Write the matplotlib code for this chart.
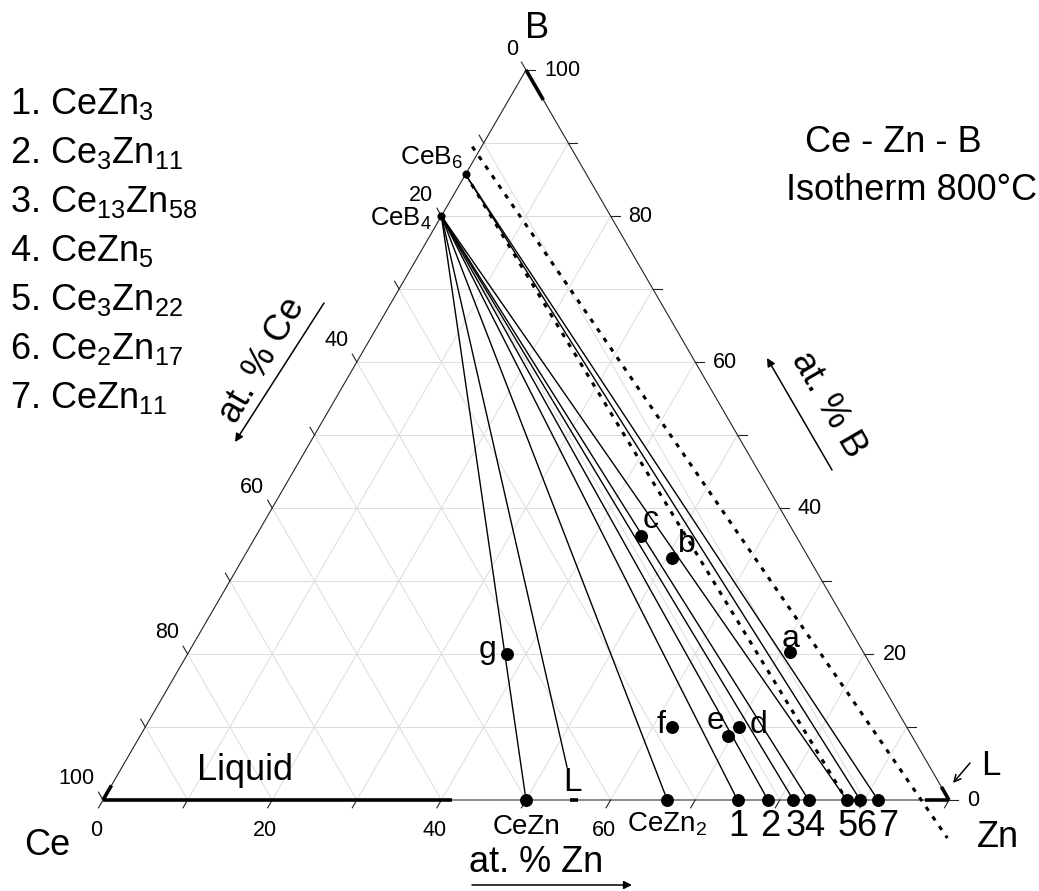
import matplotlib
matplotlib.use('Agg')
import matplotlib.pyplot as plt

plt.rcParams['font.family'] = ['Liberation Sans', 'DejaVu Sans']

W, H = 1039, 891
# pixel frame of the triangle: Ce corner, length of the Ce-Zn side, height to B
CE_X, CE_Y, SIDE, HEIGHT = 103, 800, 846, 730

# ---- data: compositions in at.% (Zn, B) ----
grid_steps = [10, 20, 30, 40, 50, 60, 70, 80, 90]
tick_steps = [0, 10, 20, 30, 40, 50, 60, 70, 80, 90, 100]
zn_tick_labels = [0, 20, 40, 60]
b_tick_labels = [0, 20, 40, 60, 80, 100]
ce_tick_labels = [0, 20, 40, 60, 80, 100]

boride_names = ['CeB4', 'CeB6']
boride_b = [80.0, 85.7]

binary_names = ['CeZn', 'CeZn2', '1', '2', '3', '4', '5', '6', '7']
binary_zn = [50.0, 66.7, 75.0, 78.6, 81.6, 83.4, 87.9, 89.5, 91.6]

liquid_point = (52.6, 4.5)   # end of the CeB4 - L tie line

ties_from_ceb4 = ['CeZn', 'L', 'CeZn2', '1', '2', '3', '4', '5']
ties_from_ceb6 = ['6', '7']
dotted_from_ceb6 = ['5']

sample_names = ['a', 'b', 'c', 'd', 'e', 'f', 'g']
sample_zn = [71.0, 50.7, 45.6, 70.2, 69.5, 62.3, 37.8]
sample_b = [20.3, 33.1, 36.1, 10.0, 8.7, 10.0, 20.0]

# single phase / liquid ranges along the sides: (zn1, b1, zn2, b2)
thick_ranges = [(0, 0, 41.3, 0), (0, 0, 0, 2.0), (97.2, 0, 100, 0),
                (100, 0, 98.2, 1.8), (4.1, 95.9, 0, 100), (55.2, 0, 56.1, 0)]
outer_dotted = (-1.1, 89.5, 102.4, -5.2)

legend_items = ['CeZn$\\mathregular{_3}$', 'Ce$\\mathregular{_3}$Zn$\\mathregular{_{11}}$',
                'Ce$\\mathregular{_{13}}$Zn$\\mathregular{_{58}}$', 'CeZn$\\mathregular{_5}$',
                'Ce$\\mathregular{_3}$Zn$\\mathregular{_{22}}$', 'Ce$\\mathregular{_2}$Zn$\\mathregular{_{17}}$',
                'CeZn$\\mathregular{_{11}}$']


def tern(zn, b):
    return zn / 100 + b / 200, b / 100


def seg(p, q, **kw):
    ax.plot([p[0], q[0]], [p[1], q[1]], **kw)


def fpx(x, y):
    return x, H - y


fig = plt.figure(figsize=(W / 100, H / 100), dpi=100)
ax = fig.add_axes([0, 0, 1, 1])
ax.set_xlim(-CE_X / SIDE, (W - CE_X) / SIDE)
ax.set_ylim((CE_Y - H) / HEIGHT, CE_Y / HEIGHT)
ax.axis('off')

# grid
gc = dict(color='#dcdcdc', lw=0.7, zorder=1)
for t in grid_steps:
    seg(tern(0, t), tern(100 - t, t), **gc)
    seg(tern(t, 0), tern(t, 100 - t), **gc)
    seg(tern(100 - t, 0), tern(0, 100 - t), **gc)

# sides
seg(tern(0, 0), tern(0, 100), color='#222222', lw=0.8, zorder=2)
seg(tern(100, 0), tern(0, 100), color='#222222', lw=0.8, zorder=2)
seg(tern(0, 0), tern(100, 0), color='#808080', lw=1.3, zorder=2)

# ticks and tick labels
TL = 1.07
tk = dict(color='#222222', lw=0.8)
num = dict(fontsize=15.5, textcoords='offset pixels')
for t in tick_steps:
    seg(tern(100 - t, t), tern(100 - t + TL, t), **tk)      # B
    seg(tern(0, 100 - t), tern(-TL, 100 - t + TL), **tk)    # Ce
    seg(tern(t, 0), tern(t, -TL), **tk)                     # Zn
for t in b_tick_labels:
    ax.annotate(str(t), tern(100 - t, t), xytext=(18, 0), ha='left', va='center', **num)
for t in ce_tick_labels:
    ax.annotate(str(t), tern(0, 100 - t), xytext=(-8, 21), ha='right', va='center', **num)
for t in zn_tick_labels:
    ax.annotate(str(t), tern(t, 0), xytext=(-7, -30), ha='center', va='center', **num)

# phase ranges on the sides
for z1, b1, z2, b2 in thick_ranges:
    seg(tern(z1, b1), tern(z2, b2), color='black', lw=2.6, solid_capstyle='butt', zorder=4)

# tie lines
ends = {n: tern(z, 0) for n, z in zip(binary_names, binary_zn)}
ends['L'] = tern(*liquid_point)
ceb4 = tern(0, boride_b[0])
ceb6 = tern(0, boride_b[1])
tie = dict(color='black', lw=1.0, zorder=3)
dot = dict(color='black', lw=2.2, dashes=(1.5, 2.3), zorder=3)
for n in ties_from_ceb4:
    seg(ceb4, ends[n], **tie)
for n in ties_from_ceb6:
    seg(ceb6, ends[n], **tie)
for n in dotted_from_ceb6:
    seg(ceb6, ends[n], **dot)
seg(tern(outer_dotted[0], outer_dotted[1]), tern(outer_dotted[2], outer_dotted[3]), **dot)

# phases
ax.plot([tern(0, b)[0] for b in boride_b], [tern(0, b)[1] for b in boride_b],
        'o', color='black', ms=4.8, zorder=5)
ax.plot([tern(z, 0)[0] for z in binary_zn], [0] * len(binary_zn),
        'o', color='black', ms=8.3, zorder=5)
ax.plot([tern(z, b)[0] for z, b in zip(sample_zn, sample_b)],
        [tern(z, b)[1] for z, b in zip(sample_zn, sample_b)],
        'o', color='black', ms=8.3, zorder=5)

# phase labels
ax.annotate('CeB$\\mathregular{_6}$', ceb6, xytext=(-2, 10), textcoords='offset pixels',
            ha='right', va='baseline', fontsize=19)
ax.annotate('CeB$\\mathregular{_4}$', ceb4, xytext=(-10, -10), textcoords='offset pixels',
            ha='right', va='baseline', fontsize=18.5)
ax.annotate('CeZn', ends['CeZn'], xytext=(0, -34), textcoords='offset pixels',
            ha='center', va='baseline', fontsize=20)
ax.annotate('CeZn$\\mathregular{_2}$', ends['CeZn2'], xytext=(0, -31), textcoords='offset pixels',
            ha='center', va='baseline', fontsize=20)
num_shift = [1, 2, 2, 6, 1, 6, 10]
for n, dx in zip(binary_names[2:], num_shift):
    ax.annotate(n, ends[n], xytext=(dx, -36), textcoords='offset pixels',
                ha='center', va='baseline', fontsize=26)
ax.annotate('L', ends['L'], xytext=(-4, -24), textcoords='offset pixels',
            ha='left', va='baseline', fontsize=24)

sample_shift = [(1, 5), (15, 6), (9, 8), (19, -6), (-12, 7), (-11, -6), (-20, -4)]
for n, z, b, (dx, dy) in zip(sample_names, sample_zn, sample_b, sample_shift):
    ax.annotate(n, tern(z, b), xytext=(dx, dy), textcoords='offset pixels',
                ha='center', va='baseline', fontsize=23)


def label(x, y, s, **kw):
    ax.annotate(s, fpx(x, y), xycoords='figure pixels', **kw)


def arrow(x1, y1, x2, y2, style='-|>'):
    ax.annotate('', xy=fpx(x2, y2), xytext=fpx(x1, y1), xycoords='figure pixels',
                textcoords='figure pixels',
                arrowprops=dict(arrowstyle=style, color='black', lw=1.1,
                                mutation_scale=12, shrinkA=0, shrinkB=0))


label(47, 855, 'Ce', fontsize=26, ha='center', va='baseline')
label(998, 847, 'Zn', fontsize=26, ha='center', va='baseline')
label(537, 38, 'B', fontsize=26, ha='center', va='baseline')
label(245, 780, 'Liquid', fontsize=26, ha='center', va='baseline')
label(981, 775, 'L', fontsize=25, ha='left', va='baseline')
arrow(970, 763, 953, 783, style='->')

label(893, 152, 'Ce - Zn - B', fontsize=26, ha='center', va='baseline')
label(912, 200, 'Isotherm 800°C', fontsize=26, ha='center', va='baseline')

for i, s in enumerate(legend_items):
    label(10, 114 + 49 * i, '%d. %s' % (i + 1, s), fontsize=26, ha='left', va='baseline')

label(536, 862, 'at. % Zn', fontsize=26, ha='center', va='center')
arrow(472, 885, 632, 885)
label(262, 360, 'at. % Ce', fontsize=26, ha='center', va='center', rotation=60,
      rotation_mode='anchor')
arrow(324, 303, 235, 442)
label(828, 405, 'at. % B', fontsize=26, ha='center', va='center', rotation=-60,
      rotation_mode='anchor')
arrow(832, 470, 767, 358)

fig.savefig('out.png', dpi=100)
